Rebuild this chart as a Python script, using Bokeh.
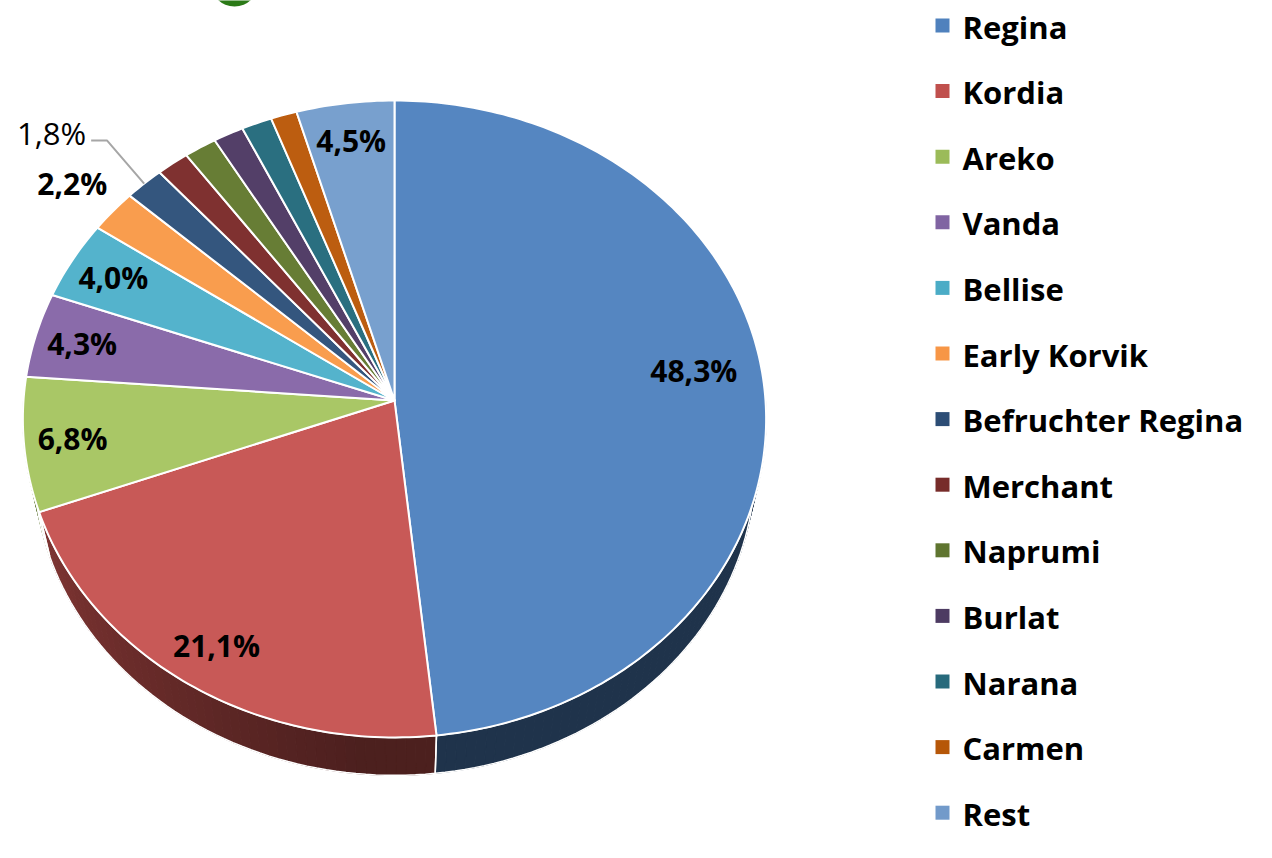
import numpy as np
from bokeh.plotting import figure
from bokeh.models import Range1d
from bokeh.core.properties import value
from bokeh.embed import file_html
from bokeh.resources import INLINE

# ---------------- data ----------------
varieties = ["Regina", "Kordia", "Areko", "Vanda", "Bellise", "Early Korvik",
             "Befruchter Regina", "Merchant", "Naprumi", "Burlat", "Narana",
             "Carmen", "Rest"]
shares = [48.3, 21.1, 6.8, 4.3, 4.0, 2.2, 1.8, 1.5, 1.5, 1.4, 1.4, 1.2, 4.5]
label_mode = ["in", "in", "in", "in", "in", "out", "leader",
              None, None, None, None, None, "in"]

legend_colors = ["#4F81BD", "#C0504D", "#9BBB59", "#8064A2", "#4BACC6", "#F79646",
                 "#2C4D75", "#772C2A", "#5F7530", "#4D3B62", "#276A7C", "#B65708",
                 "#729ACA"]
face_colors = ["#5586C1", "#C85957", "#A9C766", "#8A6BAA", "#54B3CC", "#F99D4E",
               "#34567E", "#7F3130", "#677D35", "#533F68", "#2A6F80", "#BC5D10",
               "#78A0CE"]

# ---------------- layout ----------------
W, H = 1256, 842
CX, CY = 394, 400          # pie centre (px)
AX, BY = 371, 317.4        # radii of the projected disc
K = 0.058                  # perspective strength
DEPTH = 48
SHRINK = 0.97
LABEL_R_IN = 0.87
LABEL_R_OUT = 1.15
FONT = "Open Sans"
LEG_X, LEG_TX, LEG_Y0, LEG_DY = 942, 962, 25, 65.6


def project(X, Z):
    w = 1.0 / (1.0 + K * Z)
    return CX + AX * X * w, CY - BY * Z * w


def rim(theta, r=1.0):
    return project(r * np.sin(theta), r * np.cos(theta))


def rim_bottom(theta):
    x, y = rim(theta)
    return CX + (x - CX) * SHRINK, CY + DEPTH + (y - CY) * SHRINK


def shade(hexcol, f):
    h = hexcol.lstrip("#")
    r, g, b = (int(h[i:i + 2], 16) for i in (0, 2, 4))
    return "#%02x%02x%02x" % (int(r * f), int(g * f), int(b * f))


total = sum(shares)
bounds = np.concatenate([[0], np.cumsum(shares)]) / total * 2 * np.pi

p = figure(width=W, height=H, x_range=Range1d(0, W), y_range=Range1d(H, 0),
           output_backend="svg", toolbar_location=None, min_border=0)
p.axis.visible = False
p.grid.visible = False
p.outline_line_color = None
p.background_fill_color = "white"

# small logo fragment at the top edge
p.circle([234], [-18], radius=24, fill_color="#2B7A17", line_color=None)

# ---------------- side wall ----------------
q_xs, q_ys, q_cols = [], [], []
o_xs, o_ys = [], []
for i in range(len(shares)):
    lo = max(bounds[i], np.pi / 2)
    hi = min(bounds[i + 1], 3 * np.pi / 2)
    if hi <= lo:
        continue
    n = max(2, int(np.ceil(np.degrees(hi - lo) / 1.5)))
    ts = np.linspace(lo, hi, n + 1)
    for t0, t1 in zip(ts[:-1], ts[1:]):
        xa, ya = rim(t0)
        xb, yb = rim(t1)
        xc, yc = rim_bottom(t1)
        xd, yd = rim_bottom(t0)
        q_xs.append([xa, xb, xc, xd])
        q_ys.append([ya, yb, yc, yd])
        deg = np.degrees((t0 + t1) / 2)
        f = 0.40 + 0.26 * np.clip((deg - 185) / 65, 0, 1)
        q_cols.append(shade(legend_colors[i], f))
    tx, ty = rim(ts)
    bx, by = rim_bottom(ts[::-1])
    o_xs.append(list(tx) + list(bx))
    o_ys.append(list(ty) + list(by))

p.patches(q_xs, q_ys, fill_color=q_cols, line_color=q_cols, line_width=1)
p.patches(o_xs, o_ys, fill_color=None, line_color="white", line_width=1.5)

# ---------------- top face ----------------
f_xs, f_ys = [], []
for i in range(len(shares)):
    n = max(3, int(np.ceil(np.degrees(bounds[i + 1] - bounds[i]))))
    ts = np.linspace(bounds[i], bounds[i + 1], n + 1)
    x, y = rim(ts)
    f_xs.append([CX] + list(x))
    f_ys.append([CY] + list(y))
p.patches(f_xs, f_ys, fill_color=face_colors, line_color="white", line_width=2,
          line_join="round")

# ---------------- labels ----------------
def fmt(v):
    return ("%.1f%%" % v).replace(".", ",")

in_x, in_y, in_t = [], [], []
for i, mode in enumerate(label_mode):
    mid = (bounds[i] + bounds[i + 1]) / 2
    if mode == "in":
        r = 0.81 if i == 0 else LABEL_R_IN
        x, y = rim(mid, r)
        if i == 0:
            y -= 16
        in_x.append(x); in_y.append(y); in_t.append(fmt(shares[i]))
    elif mode == "out":
        x, y = rim(mid, LABEL_R_OUT)
        in_x.append(x); in_y.append(y); in_t.append(fmt(shares[i]))
    elif mode == "leader":
        ex, ey = rim(mid, 1.0)
        elx, ely = ex - 37, ey - 43
        endx = elx - 16
        p.line([ex, elx, endx], [ey, ely, ely], line_color="#A6A6A6", line_width=2)
        p.text([endx - 5], [ely - 8], text=[fmt(shares[i])], text_align="right",
               text_baseline="middle", text_font=value(FONT), text_font_size="31px",
               text_font_style="normal", text_color="black")

p.text(in_x, in_y, text=in_t, text_align="center", text_baseline="middle",
       text_font=value(FONT), text_font_size="30px", text_font_style="bold",
       text_color="black")

# ---------------- legend ----------------
leg_y = [LEG_Y0 + i * LEG_DY for i in range(len(varieties))]
p.scatter([LEG_X] * len(varieties), leg_y, marker="square", size=14,
          fill_color=legend_colors, line_color=None)
p.text([LEG_TX] * len(varieties), [y + 1 for y in leg_y], text=varieties,
       text_align="left", text_baseline="middle", text_font=value(FONT),
       text_font_size="31px", text_font_style="bold", text_color="black")

open("out.html", "w").write(file_html(p, INLINE))
